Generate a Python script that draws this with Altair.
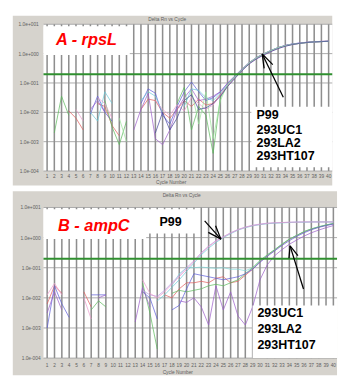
import altair as alt
import pandas as pd

N = None
cycles = list(range(1, 41))
x_tick_labels = [str(c) for c in cycles]
# y positions are log10(Delta Rn)
y_tick_values = [1, 0, -1, -2, -3, -4]
y_tick_labels = ["1.0e+001", "1.0e+000", "1.0e-001", "1.0e-002", "1.0e-003", "1.0e-004"]
threshold_log = [-0.7]

# ---------- Panel A (rpsL): log10 Delta Rn per cycle ----------
a_red = [N, N, N, -1.95, -2.2, -2.6, N, -1.7, -1.8, -2.45, -2.8, N, N, -1.9, -1.55, -1.6, -2.0, -2.2, -1.9, -1.6,
         -1.8, -1.55, -1.75, -1.7, -1.4, -1.1, -0.82, -0.56, -0.33, -0.16, -0.03, 0.09, 0.19, 0.27, 0.32, 0.35, 0.38, 0.4, 0.41, 0.42]
a_blue = [N, N, N, N, N, N, -2.05, -1.45, -2.0, -2.3, N, N, N, -1.7, -1.2, -1.35, -2.1, -2.4, -1.8, -1.3,
          -0.97, -1.3, -1.6, -1.5, -1.3, -1.02, -0.78, -0.54, -0.31, -0.14, -0.01, 0.1, 0.2, 0.28, 0.33, 0.36, 0.38, 0.4, 0.41, 0.42]
a_green = [N, -2.7, -1.45, -2.1, N, N, N, N, -1.6, -2.5, -3.1, -2.3, N, N, N, N, N, N, -1.7, -1.15,
           -2.6, -1.8, -2.1, -3.4, -1.5, -1.08, -0.8, -0.55, -0.32, -0.15, -0.02, 0.1, 0.2, 0.27, 0.32, 0.35, 0.38, 0.4, 0.41, 0.42]
a_purple = [N, N, N, N, N, N, -1.9, -1.6, -2.0, N, N, N, -2.6, -1.9, -1.35, -2.9, -3.1, -2.6, -1.9, -1.5,
            -1.2, -1.6, -1.55, -1.45, -1.3, -1.0, -0.76, -0.52, -0.3, -0.13, 0.0, 0.11, 0.21, 0.28, 0.33, 0.36, 0.39, 0.4, 0.42, 0.43]
a_cyan = [N, N, N, N, N, N, -2.0, -2.3, -1.3, -1.7, N, N, N, -1.6, -1.3, -1.45, -2.0, N, N, -1.8,
          -1.2, -1.25, -1.5, -1.6, -1.35, -1.06, -0.8, -0.55, -0.32, -0.15, -0.02, 0.1, 0.2, 0.27, 0.32, 0.35, 0.38, 0.4, 0.41, 0.42]
a_pink = [N, N, N, N, -1.9, -2.3, N, -1.5, -1.7, -2.2, N, N, N, N, N, -1.6, -1.9, -2.1, -1.75, -1.95,
          -1.5, -1.7, -1.9, -1.75, -1.42, -1.1, -0.83, -0.57, -0.34, -0.17, -0.04, 0.08, 0.18, 0.26, 0.31, 0.35, 0.38, 0.4, 0.41, 0.42]
a_lightgreen = [N, N, N, N, N, N, N, N, N, N, -2.2, -3.0, N, N, N, N, N, N, N, N,
                -1.25, -2.4, -1.3, -2.9, -1.6, -1.05, -0.79, -0.54, -0.31, -0.14, -0.01, 0.1, 0.2, 0.27, 0.32, 0.35, 0.38, 0.4, 0.41, 0.42]
a_navy = [N, N, N, N, N, N, N, N, N, N, N, N, N, N, N, -2.7, -2.0, -2.6, -2.2, -1.6,
          -1.4, -1.9, -1.85, -1.7, -1.45, -1.12, -0.85, -0.58, -0.35, -0.18, -0.05, 0.07, 0.17, 0.25, 0.31, 0.35, 0.38, 0.4, 0.41, 0.42]

# ---------- Panel B (ampC) ----------
b_pink = [-1.9, -1.52, -1.9, N, N, -2.0, -2.7, N, N, N, N, N, N, -1.4, -1.85, -2.0, -1.8, -1.55, -1.3, -1.05,
          -0.8, -0.52, -0.3, -0.12, 0.02, 0.15, 0.26, 0.34, 0.4, 0.44, 0.47, 0.49, 0.5, 0.51, 0.51, 0.52, 0.52, 0.52, 0.52, 0.52]
b_cyan = [N, N, N, N, N, N, N, N, N, N, N, N, N, N, N, -2.1, -1.9, -1.65, -1.4, -1.12,
          -0.85, -0.57, -0.35, -0.16, 0.0, 0.13, 0.25, 0.33, 0.39, 0.43, 0.46, 0.48, 0.49, 0.5, 0.51, 0.51, 0.52, 0.52, 0.52, 0.52]
b_lavender = [N, N, N, N, N, N, N, N, N, N, N, N, N, -1.75, -1.9, -1.95, -1.75, -1.5, -1.25, -1.0,
              -0.77, -0.5, -0.28, -0.1, 0.03, 0.16, 0.27, 0.35, 0.41, 0.45, 0.48, 0.49, 0.5, 0.51, 0.52, 0.52, 0.52, 0.52, 0.52, 0.52]
b_red = [-2.2, -1.6, -1.85, N, N, -1.8, -2.3, N, N, N, N, N, N, N, N, N, -1.9, -2.0, -1.7, -1.5,
         -1.5, -1.45, -1.5, -1.35, -1.3, -1.5, -1.45, -1.25, -1.05, -0.8, -0.6, -0.42, -0.23, -0.06, 0.07, 0.19, 0.28, 0.35, 0.41, 0.46]
b_teal = [N, N, N, N, N, N, N, N, N, N, N, N, N, N, N, N, N, -1.6, -1.2, -1.0,
          -1.0, -0.98, -1.0, -1.02, -1.0, -1.05, -1.05, -1.1, -1.0, -0.78, -0.58, -0.4, -0.21, -0.05, 0.08, 0.2, 0.29, 0.36, 0.42, 0.47]
b_green = [N, N, N, N, N, N, -2.4, -2.1, -2.3, N, N, N, N, -1.5, -2.5, -3.7, N, -1.85, -1.75, -1.8,
           -1.75, -1.7, -1.6, -1.55, -1.6, -1.5, -1.4, -1.2, -1.0, -0.76, -0.57, -0.4, -0.22, -0.05, 0.07, 0.2, 0.29, 0.36, 0.42, 0.47]
b_purple = [-2.5, -1.8, -2.4, N, N, N, N, -2.0, -1.9, N, N, N, -2.8, -1.65, -2.3, N, N, N, -2.1, -2.15,
            -2.0, -2.3, -2.9, -1.6, -2.4, -1.8, -2.6, -2.9, -2.3, -1.4, -0.9, -0.6, -0.4, -0.22, -0.08, 0.05, 0.16, 0.25, 0.33, 0.4]
b_blue = [-3.0, -1.6, -2.2, -2.65, N, N, -1.9, -1.9, -1.9, N, N, N, N, -1.8, -2.0, -2.7, N, -2.4, -2.25, -1.7,
          -1.2, -1.25, -1.3, -1.35, -1.4, -1.35, -1.3, -1.2, -1.05, -0.82, -0.62, -0.44, -0.26, -0.1, 0.04, 0.16, 0.26, 0.34, 0.4, 0.45]

series_colors = {
    "red": "#e05858", "blue": "#5a5ad8", "green": "#58b858", "purple": "#9a5ac8",
    "cyan": "#68c8d8", "pink": "#ec98cc", "lightgreen": "#98e498", "navy": "#404098",
    "lavender": "#b898e4", "teal": "#80d8d8",
}

series_a = {"red": a_red, "blue": a_blue, "green": a_green, "purple": a_purple,
            "cyan": a_cyan, "pink": a_pink, "lightgreen": a_lightgreen, "navy": a_navy}
series_b = {"red": b_red, "teal": b_teal, "green": b_green, "blue": b_blue,
            "purple": b_purple, "lavender": b_lavender, "cyan": b_cyan, "pink": b_pink}


def long_df(series):
    rows = []
    for name, vals in series.items():
        seg = 0
        for c, v in zip(cycles, vals):
            if v is None:
                seg += 1
                continue
            rows.append({"series": name, "cycle": c, "log_rn": v, "seg": f"{name}-{seg}"})
    return pd.DataFrame(rows)


xs = alt.Scale(domain=[0.5, 40.5], nice=False, zero=False)
ys = alt.Scale(domain=[-4, 1], nice=False, zero=False)
FONT = "Liberation Sans"
one = pd.DataFrame({"k": [0]})


def panel(series, W, H, gray, spacer, ylab_x, title_xy, xtitle_xy, xlab_y,
          tag, tag_box, tag_xy, boxes, lines, arrows):
    df = long_df(series)
    X = lambda f: alt.X(f, scale=xs, axis=None)
    Y = lambda f: alt.Y(f, scale=ys, axis=None)
    layers = []
    if spacer is not None:
        layers.append(alt.Chart(one).mark_rect(color="white").encode(
            x=alt.value(spacer[0]), x2=alt.value(spacer[1]), y=alt.value(gray[2]), y2=alt.value(gray[3])))
    layers.append(alt.Chart(one).mark_rect(color="#d6d3cd").encode(
        x=alt.value(gray[0]), x2=alt.value(gray[1]), y=alt.value(gray[2]), y2=alt.value(gray[3])))
    layers.append(alt.Chart(one).mark_rect(color="white").encode(
        x=alt.value(0), x2=alt.value(W), y=alt.value(0), y2=alt.value(H)))
    ydf = pd.DataFrame({"v": y_tick_values, "lab": y_tick_labels})
    xdf = pd.DataFrame({"cycle": cycles, "lab": x_tick_labels})
    layers.append(alt.Chart(ydf).mark_rule(color="#a8a8a8", strokeWidth=1).encode(y=Y("v:Q")))
    layers.append(alt.Chart(xdf).mark_rule(color="#8e8e8e", strokeWidth=1.6).encode(x=X("cycle:Q")))
    layers.append(alt.Chart(df).mark_line(strokeWidth=1, opacity=0.72, clip=True).encode(
        x=X("cycle:Q"), y=Y("log_rn:Q"),
        color=alt.Color("series:N", scale=alt.Scale(domain=list(series_colors.keys()),
                                                    range=list(series_colors.values())), legend=None),
        detail="seg:N"))
    layers.append(alt.Chart(pd.DataFrame({"t": threshold_log})).mark_rule(
        color="#2f8f2f", strokeWidth=2).encode(y=Y("t:Q")))
    # tick labels
    layers.append(alt.Chart(xdf).mark_text(fontSize=5, color="#606060", font=FONT, baseline="middle").encode(
        x=X("cycle:Q"), y=alt.value(xlab_y), text="lab:N"))
    layers.append(alt.Chart(ydf).mark_text(fontSize=5, color="#606060", font=FONT, align="right",
                                           baseline="middle").encode(
        y=Y("v:Q"), x=alt.value(ylab_x), text="lab:N"))
    layers.append(alt.Chart(one).mark_text(fontSize=5, color="#606060", font=FONT).encode(
        x=alt.value(title_xy[0]), y=alt.value(title_xy[1]), text=alt.value("Delta Rn vs Cycle")))
    layers.append(alt.Chart(one).mark_text(fontSize=5, color="#606060", font=FONT).encode(
        x=alt.value(xtitle_xy[0]), y=alt.value(xtitle_xy[1]), text=alt.value("Cycle Number")))
    # annotation boxes
    bdf = pd.DataFrame([tag_box] + boxes, columns=["x0", "x1", "y0", "y1"])
    layers.append(alt.Chart(bdf).mark_rect(color="white").encode(
        x=X("x0:Q"), x2="x1:Q", y=Y("y0:Q"), y2="y1:Q"))
    layers.append(alt.Chart(pd.DataFrame({"x": [tag_xy[0]], "y": [tag_xy[1]], "t": [tag]})).mark_text(
        fontSize=17, fontWeight="bold", fontStyle="italic", color="#ff0000", font=FONT,
        baseline="middle").encode(x=X("x:Q"), y=Y("y:Q"), text="t:N"))
    layers.append(alt.Chart(pd.DataFrame(lines, columns=["x", "y", "t"])).mark_text(
        fontSize=13, fontWeight="bold", color="black", font=FONT, align="left",
        baseline="middle").encode(x=X("x:Q"), y=Y("y:Q"), text="t:N"))
    layers.append(alt.Chart(pd.DataFrame(arrows, columns=["x0", "x1", "y0", "y1"])).mark_rule(
        color="black", strokeWidth=1.3).encode(x=X("x0:Q"), x2="x1:Q", y=Y("y0:Q"), y2="y1:Q"))
    return alt.layer(*layers).properties(width=W, height=H)


panel_a = panel(
    series_a, W=301, H=153, gray=(-32, 301, -9, 168), spacer=(-37, -32), ylab_x=-5,
    title_xy=(129, -5), xtitle_xy=(133, 164), xlab_y=158,
    tag="A - rpsL", tag_box=[0.5, 12.45, -0.05, 0.93], tag_xy=(6.45, 0.45),
    boxes=[[29.3, 40.5, -3.87, -1.81]],
    lines=[[30.0, -2.105, "P99"], [30.0, -2.595, "293UC1"], [30.0, -3.052, "293LA2"], [30.0, -3.51, "293HT107"]],
    arrows=[[33.72, 30.80, -1.484, -0.013], [30.80, 32.26, -0.013, -0.373], [30.80, 31.06, -0.013, -0.503]],
)

panel_b = panel(
    series_b, W=306, H=157, gray=(-32, 306, -17, 175), spacer=None, ylab_x=-3,
    title_xy=(144, -13), xtitle_xy=(140, 172), xlab_y=164,
    tag="B - ampC", tag_box=[0.5, 14.49, -0.05, 0.94], tag_xy=(7.36, 0.395),
    boxes=[[14.62, 21.68, 0.14, 0.94], [28.99, 40.5, -4.0, -2.25]],
    lines=[[16.3, 0.522, "P99"], [29.65, -2.503, "293UC1"], [29.65, -3.045, "293LA2"], [29.65, -3.586, "293HT107"]],
    arrows=[[22.46, 24.68, 0.554, -0.051], [24.68, 23.95, -0.051, 0.392], [24.68, 22.96, -0.051, 0.175],
            [35.93, 34.10, -1.707, -0.274], [34.10, 33.95, -0.274, -0.685], [34.10, 35.17, -0.274, -0.596]],
)

chart = alt.vconcat(panel_a, panel_b, spacing=6).properties(padding=0).configure(
    background="white").configure_view(stroke=None)

chart.save("out.html", embed_options={"renderer": "svg", "actions": False})
